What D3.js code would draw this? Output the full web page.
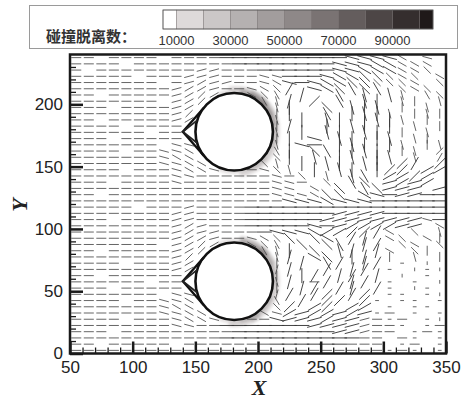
<!DOCTYPE html>
<html>
<head>
<meta charset="utf-8">
<script src="https://cdn.jsdelivr.net/npm/d3@7"></script>
<style>
  body { margin: 0; background: #fff; }
</style>
</head>
<body>
<svg id="chart" width="461" height="401"></svg>
<script>
// ---- axis ticks ----
const xTicks = [50, 100, 150, 200, 250, 300, 350];
const xMinorTicks = [60, 70, 80, 90, 110, 120, 130, 140, 160, 170, 180, 190, 210, 220, 230, 240, 260, 270, 280, 290, 310, 320, 330, 340];
const yTicks = [0, 50, 100, 150, 200];
const yMinorTicks = [10, 20, 30, 40, 60, 70, 80, 90, 110, 120, 130, 140, 160, 170, 180, 190, 210, 220, 230];

// ---- legend: collision-detachment count levels ----
const legendLevels = [5000, 10000, 20000, 30000, 40000, 50000, 60000, 70000, 80000, 90000, 100000, 105000];
const legendLabels = [10000, 30000, 50000, 70000, 90000];
const legendColors = ["#ffffff", "#dedada", "#cbc7c7", "#b5b1b1", "#a29d9d", "#8e8888",
                      "#7a7373", "#645d5d", "#4d4646", "#352e2e", "#1f1919"];

// ---- bodies: two cylinders with a wedge in front ----
const cylinderX = [181, 181];
const cylinderY = [178, 58];
const cylinderR = 31;
const wedgeTipX = 140;

// collision-detachment counts next to each cylinder surface, by angle (deg, CCW from +X)
const haloAngles = [0, 15, 30, 45, 60, 75, 90, 105, 120, 135, 150, 165, 180, 195, 210, 225, 240, 255, 270, 285, 300, 315, 330, 345];
const haloUpper = [35000, 40000, 50000, 65000, 60000, 40000, 20000, 12000, 5000, 5000, 5000, 5000,
                   5000, 5000, 5000, 5000, 5000, 12000, 18000, 28000, 38000, 35000, 28000, 30000];
const haloLower = [32000, 38000, 48000, 62000, 58000, 40000, 18000, 11000, 5000, 5000, 5000, 5000,
                   5000, 5000, 5000, 5000, 5000, 12000, 20000, 32000, 42000, 38000, 30000, 28000];

// ---- velocity field on a regular grid ----
// one character per grid node: a-l short, A-L long, m-x tiny vectors,
// letter index * 15 deg = direction; '.' = no vector
const gridX = [55, 65, 75, 85, 95, 105, 115, 125, 135, 145, 155, 165, 175, 185, 195,
               205, 215, 225, 235, 245, 255, 265, 275, 285, 295, 305, 315, 325, 335, 345];
const gridY = [237.5, 232.5, 227.5, 222.5, 217.5, 212.5, 207.5, 202.5, 197.5, 192.5, 187.5, 182.5,
               177.5, 172.5, 167.5, 162.5, 157.5, 152.5, 147.5, 142.5, 137.5, 132.5, 127.5, 122.5,
               117.5, 112.5, 107.5, 102.5, 97.5, 92.5, 87.5, 82.5, 77.5, 72.5, 67.5, 62.5,
               57.5, 52.5, 47.5, 42.5, 37.5, 32.5, 27.5, 22.5, 17.5, 12.5, 7.5, 2.5];
const fieldRows = [
  "aa.aaaa.aaaaAAAAAAAAAALLLLk.l.",
  "aaaa.aaaaaaaaAAAAAAAALLLKKkkk.",
  "a.aaaaaaaabbaaaAAAAAALLKKKkkj.",
  "aaaaa.aaabbbaaallAAALKKJJjkj.k",
  "aaaaaaa.abcbbaalkLALKKJJjjjk.j",
  "aaaaaaaabccbaalkjE.LKJIJI.jkj.",
  "aa.aaaaabcdc..kji.F..I.H.Hh.ij",
  "aaaaaaa.bcd....ihF.D.I.HG.hg.h",
  "aaa.aaaabc......hG..J.HGH.g.h.",
  "aaaaaaaabd......gG..I.GHGh.ghg",
  "aa.aaaaabc......h.G.HG.GHGh.g.",
  "aaaa.aaaa.......gF..G.HG.G.h.g",
  "aaaaaa.aa.......h.G.HG.HG.g.h.",
  "aaa.aaaaa.......gG.L.HG.GH.hg.",
  "aaaaaaa.ll......h.LA.GHG.Gh.gh",
  "aaaa.aallk......iG.JI.GHG.gh.d",
  "aaaaaaalkk.....jjG.H.GH.GH.h.e",
  "aaaaaaallkk....jh.G.HG.HG.DE.D",
  "aaaa.aaalkkla.aljh.G.HG.GDD.CC",
  "aaaaaaaallaaaaaalaj.h.HI.CCDC.",
  "aaa.aaaalaaaaaaalla.j.IJ.BCBC.",
  "aaaaaaaaaaaaaaaall.k.J.IJBBB.B",
  "aa.aaaaaaaaaaaaalllkJJ.KLABBAA",
  "aaaaaaaaaaaaaaaaaLLLKLLLAAAAAA",
  "aaaaa.aaabaaaaAAAAAAAAAAAAAAAA",
  "aaaaaaaabbaaaaAAAAAAABBBBAAAAA",
  "aaa.aaaabbaaaaAAAAAABBBBBBBBlA",
  "aaaaaaaabcbaaaAAAAALABCCCCBB.k",
  "aaaaaaaabcbbaaaALLLKCCDDEk.j.h",
  "aaaaaaaabccbaalkjJ.JK.EF.kj.kg",
  "aaaaaaa.bcdc..kji.J.JI.FE.jk.j",
  "aa.aaaaabcd....ihG.J.HF.Fk.jg.",
  "aaaaaaaabd......hF.KJ.GF.g.h.g",
  "aaaa.aaabc......g.F.IE.FE.m.s.",
  "aaaaaaaabc......fF..E.FE.m.sms",
  "aa.aaaaaa.......g.GE.FE.F.s.m.",
  "aaaaaa.aa.......hF.aE.FE.m.m.s",
  "aaa.aaaaa.......g.FE.EF.Em.sm.",
  "aaaaaaa.ll......fE.ED.ED.mm.ms",
  "aaaa.aallk......i.E.DD.Dm.mm.m",
  "aaaaaaalkk.....jjD.CD.CC.m.mm.",
  "aaaaaaallkk....klCBCCBCBma.m.m",
  "aaaa.aaalkkla.aaLBBBCBBbama.ms",
  "aaaaaaaallaaAAAAAAABBBBbaam.ma",
  "aaa.aaaaaaaaaAAAAAAAABBbaa.mam",
  "aaaaaaaaaaaaAAAAAAAAAAAaa.am.m",
  "aa.aaaaa.aaaaaaaAAAAAAaaa.ma.m",
  "aaaaaaaaaaaaaaaaaaaaaaaaamam.m"
];
const SHORT = "abcdefghijkl", LONG = "ABCDEFGHIJKL", TINY = "mnopqrstuvwx";
const vectorLength = { tiny: 3, short: 8, long: 12 };

// ---- layout ----
const svg = d3.select("#chart");
const x = d3.scaleLinear().domain([50, 350]).range([70, 446]);
const y = d3.scaleLinear().domain([0, 240]).range([353.5, 54.5]);
const kx = x(1) - x(0), ky = y(0) - y(1);
const rPx = cylinderR * (kx + ky) / 2;
const SANS = "'Liberation Sans', Arial, sans-serif";
const SERIF = "'Liberation Serif', 'Times New Roman', serif";

svg.append("defs").call(d => {
  d.append("clipPath").attr("id", "plotClip")
    .append("rect").attr("x", x(50)).attr("y", y(240)).attr("width", x(350) - x(50)).attr("height", y(0) - y(240));
  d.append("filter").attr("id", "soft").attr("x", "-20%").attr("y", "-20%").attr("width", "140%").attr("height", "140%")
    .append("feGaussianBlur").attr("stdDeviation", 1.4);
});

const countColor = d3.scaleThreshold()
  .domain(legendLevels.slice(1, 11))
  .range(legendColors);

// shading of collision counts around the cylinders
const halo = svg.append("g").attr("filter", "url(#soft)");
[haloUpper, haloLower].forEach((vals, ci) => {
  const g = halo.append("g").attr("transform", `translate(${x(cylinderX[ci])},${y(cylinderY[ci])})`);
  vals.forEach((v, i) => {
    if (v < 10000) return;
    const a0 = (90 - haloAngles[i] - 7.5) * Math.PI / 180;
    const a1 = (90 - haloAngles[i] + 7.5) * Math.PI / 180;
    g.append("path")
      .attr("d", d3.arc()({ innerRadius: rPx + 3, outerRadius: rPx + 7, startAngle: a0, endAngle: a1 }))
      .attr("fill", countColor(v * 0.5));
    g.append("path")
      .attr("d", d3.arc()({ innerRadius: rPx, outerRadius: rPx + 3.5, startAngle: a0, endAngle: a1 }))
      .attr("fill", countColor(v));
  });
});

// inside-body test (cylinders + wedges)
function insideBody(X, Y) {
  for (let i = 0; i < cylinderX.length; i++) {
    const dx = X - cylinderX[i], dy = Y - cylinderY[i];
    if (Math.hypot(dx, dy) < cylinderR + 1) return true;
    // wedge triangle: tip to the tangent points at 142 / 218 deg
    const tx = cylinderX[i] + cylinderR * Math.cos(142 * Math.PI / 180);
    const ty = cylinderR * Math.sin(142 * Math.PI / 180);
    if (X >= wedgeTipX && X <= tx) {
      const hh = (X - wedgeTipX) / (tx - wedgeTipX) * ty;
      if (Math.abs(dy) < hh + 1) return true;
    }
  }
  return false;
}

// vectors
const vectors = [];
fieldRows.forEach((row, r) => {
  for (let c = 0; c < row.length && c < gridX.length; c++) {
    const ch = row[c];
    let idx, kind;
    if ((idx = SHORT.indexOf(ch)) >= 0) kind = "short";
    else if ((idx = LONG.indexOf(ch)) >= 0) kind = "long";
    else if ((idx = TINY.indexOf(ch)) >= 0) kind = "tiny";
    else continue;
    const X = gridX[c], Y = gridY[r];
    if (insideBody(X, Y)) continue;
    vectors.push({ X, Y, ang: idx * 15 * Math.PI / 180, len: vectorLength[kind], kind });
  }
});

svg.append("g").attr("clip-path", "url(#plotClip)")
  .selectAll("line").data(vectors).join("line")
  .attr("x1", d => x(d.X - Math.cos(d.ang) * d.len / 2))
  .attr("y1", d => y(d.Y - Math.sin(d.ang) * d.len / 2))
  .attr("x2", d => x(d.X + Math.cos(d.ang) * d.len / 2))
  .attr("y2", d => y(d.Y + Math.sin(d.ang) * d.len / 2))
  .attr("stroke", d => d.kind === "long" ? "#3a3a3a" : "#4a4a4a")
  .attr("stroke-width", d => d.kind === "long" ? 0.95 : 0.85)
  .attr("stroke-linecap", "butt");

// cylinders and wedges
const bodies = svg.append("g");
cylinderX.forEach((cx, i) => {
  const px = x(cx), py = y(cylinderY[i]);
  const pt = deg => [px + rPx * Math.cos(deg * Math.PI / 180), py - rPx * Math.sin(deg * Math.PI / 180)];
  const tip = [x(wedgeTipX), py];
  bodies.append("path")
    .attr("d", d3.line()([tip, pt(142), pt(218)]) + "Z")
    .attr("fill", "#fff").attr("stroke", "none");
  bodies.append("circle").attr("cx", px).attr("cy", py).attr("r", rPx)
    .attr("fill", "#fff").attr("stroke", "#111").attr("stroke-width", 2.6);
  bodies.append("path").attr("d", d3.line()([pt(142), tip, pt(218)]))
    .attr("fill", "none").attr("stroke", "#111").attr("stroke-width", 2.3).attr("stroke-linejoin", "miter");
  bodies.append("path").attr("d", d3.line()([pt(163), tip, pt(197)]))
    .attr("fill", "none").attr("stroke", "#222").attr("stroke-width", 1.8);
});

// frame
svg.append("rect")
  .attr("x", x(50)).attr("y", y(240)).attr("width", x(350) - x(50)).attr("height", y(0) - y(240))
  .attr("fill", "none").attr("stroke", "#1a1a1a").attr("stroke-width", 2.5);

// axes
function styleAxis(g, w) {
  g.select(".domain").remove();
  g.selectAll(".tick line").attr("stroke", "#1a1a1a").attr("stroke-width", w);
  g.selectAll("text").attr("fill", "#222")
    .style("font-size", "17px").style("font-family", SANS);
}
svg.append("g").attr("transform", `translate(0,${y(0)})`)
  .call(d3.axisBottom(x).tickValues(xMinorTicks).tickSize(-6).tickFormat(""))
  .call(g => styleAxis(g, 1.3));
svg.append("g").attr("transform", `translate(0,${y(0)})`)
  .call(d3.axisBottom(x).tickValues(xTicks).tickSize(-12).tickPadding(7).tickFormat(d3.format("d")))
  .call(g => styleAxis(g, 2.5));
svg.append("g").attr("transform", `translate(${x(50)},0)`)
  .call(d3.axisLeft(y).tickValues(yMinorTicks).tickSize(-6).tickFormat(""))
  .call(g => styleAxis(g, 1.3));
svg.append("g").attr("transform", `translate(${x(50)},0)`)
  .call(d3.axisLeft(y).tickValues(yTicks).tickSize(-13).tickPadding(7).tickFormat(d3.format("d")))
  .call(g => styleAxis(g, 2.5));

svg.append("text").text("X")
  .attr("x", 259).attr("y", 395).attr("text-anchor", "middle").attr("fill", "#222")
  .style("font-family", SERIF).style("font-style", "italic").style("font-weight", "bold").style("font-size", "22px");
svg.append("text").text("Y")
  .attr("transform", "translate(27,205) rotate(-90)").attr("text-anchor", "middle").attr("fill", "#222")
  .style("font-family", SERIF).style("font-style", "italic").style("font-weight", "bold").style("font-size", "22px");

// legend
const legend = svg.append("g");
legend.append("rect").attr("x", 29.5).attr("y", 5.5).attr("width", 428).attr("height", 43)
  .attr("fill", "#fff").attr("stroke", "#9a9a9a").attr("stroke-width", 1);
const lx = d3.scaleLinear().domain([5000, 105000]).range([163, 433]);
legend.selectAll("rect.cell").data(legendColors).join("rect").attr("class", "cell")
  .attr("x", (d, i) => lx(legendLevels[i]))
  .attr("y", 10)
  .attr("width", (d, i) => lx(legendLevels[i + 1]) - lx(legendLevels[i]))
  .attr("height", 19)
  .attr("fill", d => d)
  .attr("stroke", "#6a6464").attr("stroke-width", 0.4);
legend.append("rect").attr("x", lx(5000)).attr("y", 10).attr("width", lx(105000) - lx(5000)).attr("height", 19)
  .attr("fill", "none").attr("stroke", "#555").attr("stroke-width", 0.8);
legend.selectAll("text.lab").data(legendLabels).join("text").attr("class", "lab")
  .attr("x", d => lx(d)).attr("y", 45).attr("text-anchor", "middle").attr("fill", "#333")
  .style("font-family", SANS).style("font-size", "13px").text(d => d);
legend.append("text").text("碰撞脱离数：")
  .attr("x", 46).attr("y", 42).attr("fill", "#333")
  .style("font-family", "'Noto Sans CJK SC', sans-serif").style("font-weight", "bold")
  .style("font-size", "15px");
</script>
</body>
</html>
